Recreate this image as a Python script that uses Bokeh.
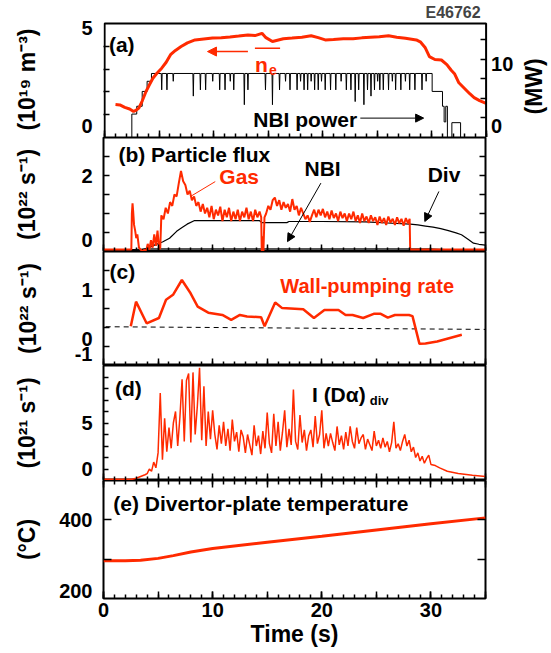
import math
from bokeh.plotting import figure
from bokeh.models import (Range1d, LinearAxis, FixedTicker, Label, Arrow, NormalHead,
                          BoxAnnotation)
from bokeh.layouts import column
from bokeh.embed import file_html
from bokeh.resources import INLINE

# ---------------- data ----------------
# (a) line-averaged density (1e19 m^-3)
ne_t = [1.0, 1.4, 1.85, 2.3, 2.66, 2.9, 3.14, 3.45, 3.8, 4.1, 4.43, 4.8, 5.24, 5.65, 6.05,
        6.5, 7.02, 7.6, 8.3, 9.1, 9.9, 10.7, 11.5, 12.3, 13.15, 13.8, 14.44, 14.8, 15.4, 16.4,
        17.2, 18.1, 18.95, 19.6, 20.24, 21.0, 21.9, 22.8, 23.6, 24.4, 25.2, 26.05, 26.8, 27.6, 28.6,
        29.0, 29.4, 29.8, 30.3, 30.9, 31.4, 31.8, 32.1, 32.5, 33.0, 33.5, 33.9, 34.4, 35.0]
ne_v = [1.45, 1.43, 1.32, 1.25, 1.14, 1.2, 1.29, 1.6, 2.02, 2.3, 2.6, 2.82, 3.04, 3.3, 3.63,
        3.82, 3.99, 4.15, 4.28, 4.32, 4.36, 4.38, 4.41, 4.45, 4.5, 4.47, 4.57, 4.38, 4.21, 4.33,
        4.36, 4.4, 4.46, 4.38, 4.28, 4.3, 4.33, 4.33, 4.37, 4.4, 4.42, 4.46, 4.4, 4.35, 4.28,
        4.18, 3.95, 3.55, 3.42, 3.4, 3.2, 2.95, 2.8, 2.4, 2.16, 1.92, 1.75, 1.62, 1.5]

# (a) NBI power (MW): start-up steps, plateau with dips, ramp-down steps
nbi_rise_t = [0.0, 2.5, 2.95, 3.45, 3.9, 4.3]
nbi_rise_p = [0.0, 3.0, 4.0, 5.9, 7.2, 8.2]
nbi_plateau = 8.2
nbi_dip_t = [5.24, 5.72, 6.3, 8.14, 8.79, 9.27, 9.92, 10.56, 11.05, 11.53, 11.85, 12.82, 13.15,
             14.76, 15.4, 16.05, 16.6, 17.01, 17.66, 17.98, 18.3, 18.63, 18.95, 19.27, 19.6, 19.9,
             20.24, 20.73, 21.21, 21.7, 22.18, 22.6, 22.99, 23.31, 23.79, 24.12, 24.44, 24.76,
             25.05, 25.25, 25.57, 26.05, 26.4, 26.7, 27.18, 27.6, 27.99, 28.47, 29.12, 29.5]
nbi_dip_p = [6.1, 6.1, 7.2, 5.3, 6.1, 6.1, 7.2, 6.1, 6.1, 7.2, 6.1, 4.2, 6.1,
             6.1, 4.2, 6.1, 7.2, 6.1, 6.1, 7.2, 6.1, 6.1, 7.2, 6.1, 6.1, 7.2,
             6.1, 6.1, 6.1, 7.2, 6.1, 6.1, 4.6, 6.1, 4.2, 6.1, 5.3, 6.1,
             7.2, 6.1, 6.1, 6.1, 7.2, 6.1, 6.1, 7.2, 6.1, 6.1, 6.1, 7.2]
nbi_fall_t = [30.05, 31.0, 31.15, 31.3, 31.45, 31.86, 32.66, 35.0]
nbi_fall_p = [5.9, 4.0, 2.0, 4.0, 0.0, 1.9, 0.0, 0.0]

# (b) gas puff flux (1e22 s^-1)
gas_pre_t = [0.0, 2.55, 2.6, 2.66, 2.72, 2.8, 2.9, 3.0, 3.1, 3.25, 3.4, 3.6, 3.75, 3.9,
             4.05, 4.2, 4.35, 4.5, 4.65, 4.8, 4.95, 5.1, 5.2]
gas_pre_v = [0.05, 0.05, 1.0, 1.27, 1.05, 0.7, 0.55, 0.35, 0.45, 0.1, 0.05, 0.0, 0.05, 0.0,
             0.2, 0.05, 0.3, 0.1, 0.45, 0.15, 0.55, 0.05, 0.1]
gas_a_start = 5.3   # sampled every 0.2 s
gas_a_v = [0.95, 0.85, 1.15, 1.0, 1.3, 1.2, 1.5, 1.45, 1.8, 2.12,
           1.85, 1.75, 1.5, 1.6, 1.35, 1.45, 1.2, 1.3, 1.05, 1.25,
           1.0, 1.15, 0.9, 1.2, 0.85, 1.1, 0.95, 1.18, 0.8, 1.1,
           0.9, 1.15, 0.8, 1.05, 0.85, 1.1, 0.8, 1.05, 0.9, 1.15,
           0.85, 1.05, 0.8, 1.1, 0.9, 1.05]
gas_gap_t = [14.45, 14.5, 14.6, 14.65, 14.75]
gas_gap_v = [0.9, 0.0, 0.4, 0.0, 0.9]
gas_b_start = 14.9  # sampled every 0.2 s
gas_b_v = [1.0, 1.2, 1.1, 1.35, 1.42, 1.2, 1.35, 1.1, 1.3, 1.15,
           1.25, 1.05, 1.38, 1.1, 1.2, 0.95, 1.15, 1.0, 0.85, 0.95,
           0.78, 0.95, 1.1, 0.9, 1.1, 0.95, 1.12, 0.9, 1.05, 0.85,
           1.08, 0.88, 1.0, 0.8, 1.05, 0.88, 1.0, 0.8, 1.0, 0.85,
           1.05, 0.8, 0.95, 0.75, 1.0, 0.8, 0.92, 0.75, 0.95, 0.8,
           0.9, 0.7, 0.92, 0.75, 0.88, 0.7, 0.92, 0.76, 0.86, 0.7,
           0.9, 0.74, 0.86, 0.68, 0.88, 0.74]
gas_end_t = [28.05, 28.1, 35.0]
gas_end_v = [0.86, 0.05, 0.05]

# (b) NBI particle flux and divertor pumping flux
nbif_t = [0.0, 2.5, 2.55, 4.3, 30.0, 31.5, 31.6, 35.0]
nbif_v = [0.0, 0.0, 0.05, 0.07, 0.07, 0.05, 0.0, 0.0]
div_t = [0.0, 3.0, 4.0, 4.76, 5.4, 6.05, 6.7, 7.2, 7.66, 8.3, 10.0, 14.3, 14.5, 16.8, 17.0,
         20.0, 24.0, 26.0, 28.1, 28.8, 29.5, 30.2, 30.9, 31.6, 32.3, 32.8, 33.4, 33.9, 34.4, 35.0]
div_v = [0.0, 0.02, 0.08, 0.18, 0.25, 0.35, 0.53, 0.63, 0.72, 0.81, 0.81, 0.81, 0.76, 0.76, 0.79,
         0.79, 0.78, 0.75, 0.72, 0.7, 0.67, 0.64, 0.6, 0.55, 0.49, 0.44, 0.32, 0.22, 0.19, 0.17]

# (c) wall-pumping rate (1e22 s^-1)
wp_t = [2.5, 2.98, 3.95, 5.08, 5.73, 6.37, 7.18, 7.98, 8.63, 9.6, 10.89, 11.7, 12.5, 13.15,
        14.44, 14.76, 15.73, 16.37, 18.3, 19.28, 20.24, 21.53, 22.18, 22.82, 23.79, 24.76,
        25.4, 26.05, 26.7, 27.99, 28.31, 28.95, 29.5, 30.57, 32.83]
wp_v = [0.03, 0.68, 0.11, 0.25, 0.73, 0.86, 1.25, 0.9, 0.55, 0.39, 0.33, 0.2, 0.33, 0.29,
        0.27, 0.03, 0.66, 0.51, 0.48, 0.25, 0.46, 0.46, 0.33, 0.33, 0.25, 0.36,
        0.36, 0.26, 0.33, 0.33, 0.3, -0.43, -0.42, -0.37, -0.19]
wp_base_t = [0.2, 35.0]
wp_base_v = [0.02, -0.05]

# (d) divertor D-alpha intensity (1e21 s^-1)
da_pre_t = [0.0, 2.6, 3.0, 3.4, 3.8]
da_pre_v = [0.1, 0.1, 0.2, 0.35, 0.5]
da_start = 4.0      # sampled every 0.2 s
da_v = [0.6, 1.0, 0.8, 1.6, 1.1, 2.4, 7.6, 1.8, 5.4, 2.5,
        4.6, 2.8, 5.0, 6.0, 3.0, 5.5, 8.8, 3.4, 8.7, 9.3,
        3.3, 9.4, 4.0, 6.5, 9.8, 3.5, 8.2, 3.0, 6.0, 3.6,
        6.1, 4.0, 2.7, 4.8, 3.2, 5.1, 3.0, 4.5, 2.6, 5.3,
        3.4, 4.2, 2.5, 4.4, 3.8, 2.4, 4.0, 3.1, 2.2, 4.8,
        3.0, 3.9, 2.3, 4.3, 2.8, 5.9, 3.2, 2.4, 5.8, 3.0,
        5.1, 2.6, 4.2, 6.1, 2.9, 4.5, 3.1, 7.9, 3.4, 2.7,
        5.7, 3.3, 4.4, 2.6, 3.9, 4.4, 2.9, 5.6, 3.2, 4.0,
        6.1, 2.8, 4.1, 3.0, 4.1, 3.3, 2.6, 4.7, 3.1, 3.9,
        2.7, 4.2, 3.0, 4.7, 3.4, 2.8, 4.6, 3.2, 3.7, 4.0,
        2.7, 3.6, 3.1, 2.6, 4.3, 3.0, 3.5, 2.8, 3.7, 2.9,
        3.4, 2.5, 3.3, 5.1, 2.8, 3.2, 2.6, 3.4, 4.0, 3.0,
        3.5, 2.5, 2.9, 2.0, 2.4, 1.7, 2.1, 1.5, 1.9, 2.2,
        1.4]
da_tail_t = [30.4, 30.8, 31.5, 32.5, 33.8, 35.0]
da_tail_v = [1.3, 1.1, 0.8, 0.6, 0.45, 0.35]

# (e) divertor-plate temperature (deg C)
temp_t = [0.0, 2.0, 3.4, 5.0, 6.4, 8.0, 10.0, 15.0, 20.0, 25.0, 30.0, 35.0]
temp_v = [296, 296, 297, 302, 309, 318, 327, 343, 358, 374, 390, 405]

# ticks: x (s)
x_labelled = [0, 10, 20, 30]
x_five = [0, 5, 10, 15, 20, 25, 30, 35]
x_one = list(range(0, 36))
# y ticks per panel, and tick-label texts with the spots where they are printed
a_ticks = [1, 2, 3, 4]
a_lab_pos, a_lab_txt = [0.5, 4.79], ["0", "5"]
mw_ticks = [2.5, 5, 7.5, 10, 12.5]
mw_lab_pos, mw_lab_txt = [1.45, 9.4], ["0", "10"]
mw_max = 14.6
b_ticks = [0.5, 1, 1.5, 2, 2.5]
b_lab_pos, b_lab_txt = [0.3, 2.0], ["0", "2"]
c_ticks = [-0.5, 0, 0.5, 1, 1.5]
c_lab_pos, c_lab_txt = [-0.7, -0.3, 1.0], ["-1", "0", "1"]
d_ticks = [1, 2, 3, 4, 5, 6, 7, 8, 9]
d_lab_pos, d_lab_txt = [1.0, 5.0], ["0", "5"]
e_ticks = [300, 400]
e_lab_pos, e_lab_txt = [218.0, 400.0], ["200", "400"]

# ---------------- assemble series ----------------
nbi_x, nbi_y = [], []
for i in range(len(nbi_rise_t) - 1):
    nbi_x += [nbi_rise_t[i], nbi_rise_t[i + 1]]
    nbi_y += [nbi_rise_p[i], nbi_rise_p[i]]
nbi_x.append(nbi_rise_t[-1]); nbi_y.append(nbi_plateau)
for t, pw in zip(nbi_dip_t, nbi_dip_p):
    nbi_x += [t - 0.04, t, t + 0.04]
    nbi_y += [nbi_plateau, pw, nbi_plateau]
nbi_x.append(nbi_fall_t[0]); nbi_y.append(nbi_plateau)
for i in range(len(nbi_fall_t) - 1):
    nbi_x += [nbi_fall_t[i], nbi_fall_t[i + 1]]
    nbi_y += [nbi_fall_p[i], nbi_fall_p[i]]

gas_x = (gas_pre_t + [round(gas_a_start + 0.2 * i, 2) for i in range(len(gas_a_v))]
         + gas_gap_t + [round(gas_b_start + 0.2 * i, 2) for i in range(len(gas_b_v))] + gas_end_t)
gas_y = gas_pre_v + gas_a_v + gas_gap_v + gas_b_v + gas_end_v

da_x = da_pre_t + [round(da_start + 0.2 * i, 2) for i in range(len(da_v))] + da_tail_t
da_y = da_pre_v + da_v + da_tail_v

# ---------------- styling ----------------
RED = "#ff2a00"
FONT = "Liberation Sans"
FW = 382
XR = Range1d(0, 35)


def base_style(ax):
    ax.axis_line_color = None
    ax.major_tick_out = 0
    ax.minor_tick_out = 0
    ax.major_tick_line_color = "black"
    ax.minor_tick_line_color = "black"
    ax.major_tick_line_width = 1.5
    ax.minor_tick_line_width = 1.5
    ax.major_label_text_font = FONT
    ax.major_label_text_font_style = "bold"
    ax.major_label_text_color = "black"
    ax.major_label_text_font_size = "20px"
    ax.major_label_text_line_height = 1.0
    ax.axis_label_text_font = FONT
    ax.axis_label_text_font_style = "bold"
    ax.axis_label_text_color = "black"
    ax.axis_label_text_font_size = "23px"
    ax.axis_label_text_line_height = 1.0


def label_axis(ax, ticks, length, lab_pos, lab_txt, standoff=11):
    """Tick marks at `ticks`; tick labels printed at lab_pos (no tick drawn there)."""
    base_style(ax)
    ax.ticker = FixedTicker(ticks=lab_pos, minor_ticks=ticks)
    ax.major_tick_in = 0
    ax.minor_tick_in = length
    ax.major_label_overrides = dict(zip(lab_pos, lab_txt))
    ax.major_label_standoff = standoff


def tick_axis(p, side, ticks, length, **kw):
    """An axis that only draws inward tick marks, no labels."""
    ax = LinearAxis(**kw)
    base_style(ax)
    ax.ticker = FixedTicker(ticks=[], minor_ticks=ticks)
    ax.major_tick_in = 0
    ax.minor_tick_in = length
    ax.major_label_standoff = 0
    p.add_layout(ax, side)
    return ax


def make_fig(fh, yr, top=0, bottom=0, title=None, fw=FW, xr=XR, left=103, right=60):
    kw = dict(frame_width=fw, frame_height=fh, x_range=xr, y_range=yr,
              output_backend="svg", toolbar_location=None,
              min_border_left=left, min_border_right=right,
              min_border_top=top, min_border_bottom=bottom)
    if title:
        kw["title"] = title
    p = figure(**kw)
    p.grid.visible = False
    p.outline_line_color = "black"
    p.outline_line_width = 2
    p.outline_line_alpha = 1.0
    p.background_fill_color = "white"
    p.border_fill_color = "white"
    return p


def bottom_ticks(p):
    p.below[0].visible = False
    tick_axis(p, "below", x_one, 4)
    tick_axis(p, "below", x_five, 7)


def txt(p, x, y, s, size="21px", color="black", align="left", baseline="middle", **kw):
    p.add_layout(Label(x=x, y=y, text=s, text_font=FONT, text_font_size=size,
                       text_font_style="bold", text_color=color, text_align=align,
                       text_baseline=baseline, **kw))


def arrow(p, x0, y0, x1, y1, color="black", width=1.0, head=8, **kw):
    p.add_layout(Arrow(end=NormalHead(size=head, fill_color=color, line_color=color),
                       x_start=x0, y_start=y0, x_end=x1, y_end=y1,
                       line_color=color, line_width=width, **kw))


# ---- panel (a): its frame runs on to the page's right edge so that the MW axis,
# its labels and "(MW)" can sit inside it; the 0-35 s box is drawn as an annotation.
a_top = 5.088
pa = make_fig(116, Range1d(0, a_top), top=20, title="E46762",
              fw=448, xr=Range1d(-0.1, 41.0), left=102, right=0)
pa.outline_line_color = None
pa.outline_line_alpha = 0.0
pa.outline_line_width = 0
pa.add_layout(BoxAnnotation(left=0, right=35, bottom=0, top=5, fill_color=None,
                            line_color="black", line_width=2, line_alpha=1.0))
pa.title.align = "left"
pa.title.text_font = FONT
pa.title.text_font_size = "16px"
pa.title.text_font_style = "bold"
pa.title.offset = 322
pa.title.standoff = 2
pa.extra_y_ranges = {"mw": Range1d(0, mw_max * a_top / 5)}
label_axis(pa.yaxis[0], a_ticks, 6, a_lab_pos, a_lab_txt)
pa.yaxis[0].axis_label = "(10¹⁹ m⁻³)"
pa.yaxis[0].axis_label_standoff = 38
ra = LinearAxis(y_range_name="mw", fixed_location=35)
label_axis(ra, mw_ticks, 6, mw_lab_pos, mw_lab_txt, standoff=5)
pa.add_layout(ra, "right")
bottom_ticks(pa)
pa.line(nbi_x, nbi_y, y_range_name="mw", line_color="black", line_width=1)
pa.line(ne_t, ne_v, line_color=RED, line_width=3)
txt(pa, 39.4, 2.24, "(MW)", size="23px", align="center", angle=math.pi / 2)
txt(pa, 0.4, 4.07, "(a)")
arrow(pa, 13.15, 3.77, 9.44, 3.77, color=RED, width=1.5, head=9)
txt(pa, 13.79, 3.19, "n", size="21px", color=RED, baseline="alphabetic")
txt(pa, 15.08, 2.98, "e", size="14px", color=RED, baseline="alphabetic")
pa.add_layout(Arrow(end=None, x_start=13.79, y_start=3.92, x_end=16.1, y_end=3.92,
                    line_color=RED, line_width=1.5))
txt(pa, 18.4, 0.78, "NBI power", align="center")
arrow(pa, 23.46, 0.85, 29.27, 0.85, width=1, head=8)

# ---- panel (b)
pb = make_fig(114, Range1d(0, 3))
label_axis(pb.yaxis[0], b_ticks, 6, b_lab_pos, b_lab_txt)
pb.yaxis[0].axis_label = "(10²² s⁻¹)"
pb.yaxis[0].axis_label_standoff = 38
tick_axis(pb, "right", b_ticks, 6)
bottom_ticks(pb)
pb.line(nbif_t, nbif_v, line_color="black", line_width=1)
pb.line(div_t, div_v, line_color="black", line_width=1.2)
pb.line(gas_x, gas_y, line_color=RED, line_width=2)
txt(pb, 1.37, 2.54, "(b) Particle flux")
txt(pb, 12.43, 1.97, "Gas", color=RED, align="center")
pb.add_layout(Arrow(end=None, x_start=10.24, y_start=1.84, x_end=7.98, y_end=1.45,
                    line_color=RED, line_width=1))
txt(pb, 20.07, 2.19, "NBI", align="center")
arrow(pb, 19.92, 1.8, 16.86, 0.26, width=1, head=8)
txt(pb, 31.2, 2.02, "Div", align="center")
arrow(pb, 30.73, 1.58, 29.44, 0.79, width=1, head=8)

# ---- panel (c)
pc = make_fig(114, Range1d(-1, 2))
label_axis(pc.yaxis[0], c_ticks, 6, c_lab_pos, c_lab_txt)
pc.yaxis[0].axis_label = "(10²² s⁻¹)"
pc.yaxis[0].axis_label_standoff = 31
bottom_ticks(pc)
pc.line(wp_base_t, wp_base_v, line_color="black", line_width=1, line_dash="5 4")
pc.line(wp_t, wp_v, line_color=RED, line_width=2.5)
txt(pc, 0.55, 1.47, "(c)")
txt(pc, 16.2, 1.08, "Wall-pumping rate", size="20px", color=RED)

# ---- panel (d)
pd_ = make_fig(115, Range1d(0, 10))
label_axis(pd_.yaxis[0], d_ticks, 5, d_lab_pos, d_lab_txt)
pd_.yaxis[0].axis_label = "(10²¹ s⁻¹)"
pd_.yaxis[0].axis_label_standoff = 38
bottom_ticks(pd_)
pd_.line(da_x, da_y, line_color=RED, line_width=1.5)
txt(pd_, 1.05, 8.0, "(d)")
txt(pd_, 19.1, 7.45, "I (Dα)")
txt(pd_, 24.4, 7.0, "div", size="13px")

# ---- panel (e)
pe = make_fig(118, Range1d(200, 500), bottom=54)
xe = pe.below[0]
label_axis(pe.yaxis[0], e_ticks, 8, e_lab_pos, e_lab_txt)
pe.yaxis[0].axis_label = "(°C)"
pe.yaxis[0].axis_label_standoff = 16
tick_axis(pe, "right", e_ticks, 8)
tick_axis(pe, "above", x_one, 4)
tick_axis(pe, "above", x_five, 7)
base_style(xe)
xe.ticker = FixedTicker(ticks=x_labelled, minor_ticks=x_one)
xe.major_tick_in = 7
xe.minor_tick_in = 4
xe.major_label_standoff = 4
xe.axis_label = "Time (s)"
xe.axis_label_standoff = 1
t5 = tick_axis(pe, "below", x_five, 7)
pe.below = [t5, xe]
pe.line(temp_t, temp_v, line_color=RED, line_width=3)
txt(pe, 0.89, 442.5, "(e) Divertor-plate temperature")

layout = column(pa, pb, pc, pd_, pe, spacing=0)
open("out.html", "w").write(file_html(layout, INLINE))
